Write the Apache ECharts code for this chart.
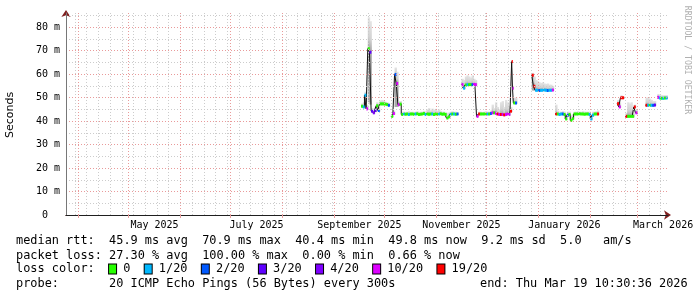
<!DOCTYPE html>
<html><head><meta charset="utf-8">
<script src="https://cdn.jsdelivr.net/npm/echarts@6/dist/echarts.min.js"></script>
<style>html,body{margin:0;padding:0;background:#fff}#c{width:697px;height:297px}</style>
</head><body><div id="c"></div>
<script>
// ---------- DATA ----------
// each entry covers [dates[i], dates[i+1]); null median = no data (gap)
const dates = [
 // Sep-Oct bump
 '2025-09-17','2025-09-18','2025-09-19','2025-09-20','2025-09-21','2025-09-22','2025-09-23','2025-09-24','2025-09-25','2025-09-26','2025-09-27','2025-09-28','2025-09-29','2025-09-30','2025-10-01','2025-10-02','2025-10-03','2025-10-04',
 // Oct-Nov flat
 '2025-10-05','2025-10-06','2025-10-07','2025-10-08','2025-10-09','2025-10-10','2025-10-11','2025-10-12','2025-10-13','2025-10-14','2025-10-15','2025-10-16','2025-10-17','2025-10-18','2025-10-19','2025-10-20','2025-10-21','2025-10-22','2025-10-23','2025-10-24','2025-10-25','2025-10-26','2025-10-27','2025-10-28','2025-10-29','2025-10-30','2025-10-31','2025-11-01','2025-11-02','2025-11-03','2025-11-04','2025-11-05','2025-11-06','2025-11-07','2025-11-08','2025-11-09','2025-11-10','2025-11-11','2025-11-12','2025-11-13','2025-11-14',
 // Nov-Dec
 '2025-11-16','2025-11-17','2025-11-18','2025-11-19','2025-11-20','2025-11-21','2025-11-22','2025-11-23','2025-11-24',
 '2025-11-25','2025-11-26','2025-11-27','2025-11-28','2025-11-29','2025-11-30',
 '2025-12-01','2025-12-02','2025-12-03','2025-12-04','2025-12-05','2025-12-06','2025-12-07','2025-12-08','2025-12-09','2025-12-10','2025-12-11','2025-12-12','2025-12-13','2025-12-14','2025-12-15',
 '2025-12-16','2025-12-16 12:00','2025-12-17','2025-12-18','2025-12-19',
 // Dec-Jan
 '2025-12-28','2025-12-29','2025-12-30','2025-12-31','2026-01-01','2026-01-02','2026-01-03','2026-01-04','2026-01-05','2026-01-06','2026-01-07','2026-01-08','2026-01-09','2026-01-10',
 // Jan-Feb
 '2026-01-11','2026-01-12','2026-01-13','2026-01-14','2026-01-15','2026-01-16','2026-01-17','2026-01-18','2026-01-19','2026-01-20','2026-01-21','2026-01-22','2026-01-23','2026-01-24','2026-01-25','2026-01-26','2026-01-27','2026-01-28','2026-01-29','2026-01-30','2026-01-31','2026-02-01','2026-02-02','2026-02-03','2026-02-04','2026-02-05','2026-02-06',
 // Feb
 '2026-02-17','2026-02-18','2026-02-19','2026-02-20','2026-02-21',
 '2026-02-22','2026-02-23','2026-02-24','2026-02-25','2026-02-26','2026-02-27','2026-02-28','2026-03-01',
 // Mar
 '2026-03-06','2026-03-07','2026-03-08','2026-03-09','2026-03-10','2026-03-11','2026-03-12',
 '2026-03-13','2026-03-14','2026-03-15','2026-03-16','2026-03-17','2026-03-18','2026-03-19'
];
const median = [
 46.3,46.0,51.0,45.2,70.8,69.3,44.2,43.5,44.5,46.5,44.5,47.3,47.3,47.3,47.2,47.0,46.7,null,
 42.0,43.2,59.8,56.0,47.0,47.2,42.8,43.0,42.9,43.0,42.8,43.0,43.0,42.9,43.0,43.1,42.8,42.9,43.0,43.2,42.8,43.0,42.9,43.0,43.0,42.8,43.0,42.9,43.0,43.1,42.9,43.0,42.8,41.3,41.8,42.9,43.0,43.0,42.9,43.0,null,
 55.5,54.0,55.3,55.5,55.5,55.5,55.5,55.6,55.5,
 42.0,43.0,43.0,43.0,43.0,43.1,
 43.0,43.0,43.2,43.5,43.5,43.3,43.0,42.8,42.8,42.8,42.6,42.8,43.0,42.8,44.2,
 65.3,54.0,47.7,47.7,null,
 59.5,54.8,53.1,53.1,53.0,53.1,53.1,53.2,53.1,53.0,53.1,53.1,53.2,null,
 43.0,43.0,42.8,43.0,43.0,42.8,40.9,42.5,42.8,40.3,41.0,43.0,43.0,43.0,43.1,43.0,43.0,42.9,43.0,43.0,42.8,40.9,42.5,43.0,43.0,43.0,null,
 47.4,46.0,49.9,49.9,null,
 42.0,42.0,42.0,42.0,42.0,46.0,43.5,null,
 46.7,46.7,46.7,46.7,46.7,46.8,null,
 50.1,49.8,49.7,49.7,49.8,49.8,null
];
// lost pings out of 20
const loss = [
 0,1,1,10,0,3,3,4,3,0,2,0,0,0,0,0,2,null,
 0,10,2,10,10,0,0,1,0,0,1,0,0,0,1,0,0,0,0,0,1,0,0,0,1,0,0,0,1,0,0,0,0,0,0,1,0,1,0,2,null,
 10,1,0,1,0,0,2,10,10,
 10,19,0,0,0,0,
 1,0,2,10,0,10,19,10,19,10,19,10,10,10,19,
 19,10,0,2,null,
 19,19,1,1,2,1,1,1,1,2,1,1,10,null,
 19,0,1,1,2,0,0,2,0,0,0,0,0,0,0,0,0,0,0,0,1,1,1,0,0,19,null,
 19,10,19,19,null,
 19,0,0,0,0,19,10,null,
 19,1,0,1,2,3,null,
 10,1,0,1,0,1,null
];
const smokeLo = [
 45.8,45.5,47.0,44.8,48.0,47.0,43.6,43.0,43.8,45.8,44.0,46.8,46.8,46.8,46.8,46.6,46.3,null,
 41.7,42.8,46.0,46.0,46.5,46.8,42.4,42.6,42.5,42.6,42.4,42.6,42.6,42.5,42.6,42.7,42.4,42.5,42.6,42.8,42.4,42.6,42.5,42.6,42.6,42.4,42.6,42.5,42.6,42.7,42.5,42.6,42.4,41.0,41.4,42.5,42.6,42.6,42.5,42.6,null,
 55.0,53.6,54.8,55.0,55.0,55.0,55.0,55.0,55.0,
 41.7,42.6,42.6,42.6,42.6,42.7,
 42.6,42.6,42.8,43.0,43.0,42.9,42.6,42.4,42.4,42.4,42.2,42.4,42.6,42.4,43.8,
 65.3,53.5,47.3,47.3,null,
 53.0,53.0,52.7,52.7,52.7,52.7,52.7,52.8,52.7,52.7,52.7,52.7,52.8,null,
 42.6,42.6,42.4,42.6,42.6,42.4,40.5,42.0,42.4,40.0,40.6,42.6,42.6,42.6,42.7,42.6,42.6,42.5,42.6,42.6,42.4,40.5,42.0,42.6,42.6,42.6,null,
 47.0,45.6,49.4,49.4,null,
 41.6,41.6,41.6,41.6,41.6,45.5,43.0,null,
 46.3,46.3,46.3,46.3,46.3,46.4,null,
 49.6,49.4,49.3,49.3,49.4,49.4,null
];
const smokeHi = [
 47.5,48.0,52.5,47.0,84.2,82.5,45.5,44.5,46.0,48.0,46.5,48.8,49.0,48.6,48.2,48.0,47.6,null,
 43.0,44.5,62.8,61.0,48.5,48.5,44.0,44.0,43.8,44.0,44.2,43.8,44.0,43.8,44.0,44.2,43.8,44.0,44.0,44.3,44.0,45.0,45.5,44.6,45.3,44.8,45.2,44.5,45.0,44.3,44.0,44.0,43.8,43.5,43.6,44.0,44.2,44.0,44.0,43.8,null,
 58.0,57.5,59.0,59.5,59.0,58.5,59.5,58.0,57.5,
 43.0,44.0,44.0,43.8,44.0,44.2,
 44.0,44.0,44.5,47.0,45.5,48.0,46.0,45.0,48.0,48.5,46.0,49.0,48.0,46.5,46.0,
 65.3,55.0,50.0,50.0,null,
 60.5,59.0,57.5,57.0,56.5,56.2,56.5,56.0,55.8,56.0,55.5,55.5,55.0,null,
 47.0,44.5,44.0,44.0,44.2,44.0,43.0,44.0,44.0,42.5,43.0,44.0,44.0,44.2,44.0,44.0,44.2,44.0,44.0,44.0,44.0,43.0,44.0,44.0,44.2,44.5,null,
 49.0,48.0,51.0,50.5,null,
 43.5,48.0,47.5,48.0,45.0,47.0,45.0,null,
 50.0,50.0,49.5,49.0,48.5,48.5,null,
 51.5,51.3,51.0,51.0,51.0,51.0,null
];

const xRange = ['2025-03-24 15:00','2026-03-19 10:30'];
const yRange = [0, 86];
const monthStarts = ['2025-04-01','2025-05-01','2025-06-01','2025-07-01','2025-08-01','2025-09-01','2025-10-01','2025-11-01','2025-12-01','2026-01-01','2026-02-01','2026-03-01'];
const firstSunday = '2025-03-30';
const xLabelDates = ['2025-05-16 12:00','2025-07-16 12:00','2025-09-16','2025-11-16','2026-01-16 12:00','2026-03-16 12:00'];
const xLabelTexts = ['May 2025','July 2025','September 2025','November 2025','January 2026','March 2026'];
const yMajor = [10,20,30,40,50,60,70,80];
const yMinor = [5,15,25,35,45,55,65,75,85];
const yLabelValues = [0,10,20,30,40,50,60,70,80];
const yLabelTexts = ['0  ','10 m','20 m','30 m','40 m','50 m','60 m','70 m','80 m'];

const lossLevels = [0,1,2,3,4,10,19];
const lossLabels = ['0','1/20','2/20','3/20','4/20','10/20','19/20'];
const lossColors = ['#26ff00','#00b8ff','#0059ff','#5e00ff','#7e00ff','#dd00ff','#ff0000'];

const rttStats = ['45.9 ms avg','70.9 ms max','40.4 ms min','49.8 ms now','9.2 ms sd','5.0   am/s'];
const lossStats = ['27.30 % avg','100.00 % max','0.00 % min','0.66 % now'];
const probeText = '20 ICMP Echo Pings (56 Bytes) every 300s';
const endText = 'end: Thu Mar 19 10:30:36 2026';

// ---------- BUILD ----------
const MONO = '"DejaVu Sans Mono", monospace';
const T = s => { const p = s.split(' '); const d = p[0].split('-').map(Number); const t = p[1] ? p[1].split(':').map(Number) : [0,0]; return Date.UTC(d[0], d[1]-1, d[2], t[0], t[1]); };
const xMin = T(xRange[0]), xMax = T(xRange[1]);
const DAY = 86400000;
const weekLines = [];
for (let t = T(firstSunday); t < xMax; t += 7*DAY) weekLines.push(t);

function colorFor(l){ let c = lossColors[0]; lossLevels.forEach((lv,k)=>{ if (l >= lv) c = lossColors[k]; }); return c; }

const rows = [];
for (let i = 0; i < dates.length - 1; i++) {
  if (median[i] == null) continue;
  rows.push([T(dates[i]), T(dates[i+1]), smokeLo[i], median[i], smokeHi[i], loss[i]]);
}
const lineData = dates.map((d,i)=>[T(d), median[i]]);

const chart = echarts.init(document.getElementById('c'), null, {renderer:'canvas', width:697, height:297});

function smokeItem(params, api){
  const t0 = api.value(0), t1 = api.value(1), lo = api.value(2), med = api.value(3), hi = api.value(4);
  const x0 = api.coord([t0, med])[0], x1 = api.coord([t1, med])[0];
  const yLo = api.coord([t0, lo])[1], yMed = api.coord([t0, med])[1], yHi = api.coord([t0, hi])[1];
  const w = x1 - x0 + 0.7;
  const ch = [];
  if (yMed - yHi > 0.5) ch.push({type:'rect', shape:{x:x0, y:yHi, width:w, height:yMed-yHi},
    style:{fill: new echarts.graphic.LinearGradient(0,0,0,1,[{offset:0,color:'#e4e4e4'},{offset:0.6,color:'#d2d2d2'},{offset:1,color:'#a0a0a0'}])}});
  if (yLo - yMed > 0.5) ch.push({type:'rect', shape:{x:x0, y:yMed, width:w, height:yLo-yMed}, style:{fill:'#a8a8a8'}});
  return {type:'group', children: ch};
}
function medItem(params, api){
  const t0 = api.value(0), t1 = api.value(1), med = api.value(3), l = api.value(5);
  const p0 = api.coord([t0, med]), p1 = api.coord([t1, med]);
  return {type:'rect', shape:{x:p0[0], y:p0[1]-1.5, width:p1[0]-p0[0]+0.3, height:3}, style:{fill: colorFor(l)}};
}

const gridDash = [1,2];
const rich = {t:{fontFamily:MONO, fontSize:11.9, fill:'#000', verticalAlign:'middle'}};
lossColors.forEach((c,i)=>{ rich['s'+i] = {width:7, height:9, backgroundColor:c, borderColor:'#000', borderWidth:1, verticalAlign:'middle'}; });
const lossLegend = '{t|loss color:  }' + lossLabels.map((l,i)=>'{s'+i+'| }{t| '+l+'  }').join('');

const legendStyle = {fontFamily:MONO, fontSize:11.9, fill:'#000', align:'left', verticalAlign:'middle'};

chart.setOption({
  animation:false,
  backgroundColor:'#ffffff',
  grid:{left:66, right:29, top:13, bottom:82, outerBoundsMode:'none'},
  xAxis:[
    {type:'value', min:xMin, max:xMax, position:'bottom', z:5,
     axisLine:{show:true, onZero:false, lineStyle:{color:'#1f1f1f', width:1}},
     axisTick:{show:true, customValues: monthStarts.map(T), length:3, lineStyle:{color:'#e8a0a0'}},
     axisLabel:{show:true, customValues: xLabelDates.map(T), margin:5, fontFamily:MONO, fontSize:10, color:'#000',
       formatter: v => { const i = xLabelDates.findIndex(d => Math.abs(T(d)-v) < 3600000); return i >= 0 ? xLabelTexts[i] : ''; }},
     splitLine:{show:false}},
    {type:'value', min:xMin, max:xMax, position:'bottom', z:1,
     axisLine:{show:true, onZero:false, symbol:['none','arrow'], symbolSize:[7,7], symbolOffset:[0,3], lineStyle:{color:'#801f1f', width:1}},
     axisTick:{show:false}, axisLabel:{show:false}, splitLine:{show:false}}
  ],
  yAxis:[
    {type:'value', min:yRange[0], max:yRange[1], interval:10, position:'left', z:5,
     axisLine:{show:true, onZero:false, lineStyle:{color:'#777', width:1}},
     axisTick:{show:false},
     axisLabel:{show:true, margin:6, fontFamily:MONO, fontSize:10, color:'#000',
       formatter: v => { const i = yLabelValues.indexOf(v); return i >= 0 ? yLabelTexts[i] : ''; }},
     splitLine:{show:false}},
    {type:'value', min:yRange[0], max:yRange[1], position:'left', z:1,
     axisLine:{show:true, onZero:false, symbol:['none','arrow'], symbolSize:[7,7], symbolOffset:[0,3], lineStyle:{color:'#801f1f', width:1}},
     axisTick:{show:false}, axisLabel:{show:false}, splitLine:{show:false}}
  ],
  series:[
    {type:'custom', name:'smoke', renderItem:smokeItem, data:rows, z:1, silent:true, encode:{x:0, y:3}},
    {type:'line', name:'minorGrid', data:[], z:2, silent:true,
     markLine:{silent:true, symbol:['none','none'], label:{show:false}, animation:false,
       lineStyle:{color:'#cccccc', type:gridDash, width:1, opacity:1},
       data: weekLines.map(t=>({xAxis:t})).concat(yMinor.map(v=>({yAxis:v})))}},
    {type:'line', name:'majorGrid', data:[], z:2, silent:true,
     markLine:{silent:true, symbol:['none','none'], label:{show:false}, animation:false,
       lineStyle:{color:'#e99a9a', type:gridDash, width:1, opacity:1},
       data: monthStarts.map(d=>({xAxis:T(d)})).concat(yMajor.map(v=>({yAxis:v})))}},
    {type:'line', name:'median', data:lineData, step:'end', showSymbol:false, symbol:'none', connectNulls:false, z:3, silent:true,
     lineStyle:{color:'#111', width:1}},
    {type:'custom', name:'loss', renderItem:medItem, data:rows, z:4, silent:true, encode:{x:0, y:3}}
  ],
  graphic:[
    {type:'text', x:10, y:115, rotation:Math.PI/2, silent:true,
     style:{text:'Seconds', fontFamily:'"DejaVu Sans", sans-serif', fontSize:11, fill:'#000', align:'center', verticalAlign:'middle'}},
    {type:'text', x:687, y:60, rotation:-Math.PI/2, silent:true,
     style:{text:'RRDTOOL / TOBI OETIKER', fontFamily:MONO, fontSize:8.2, fill:'#b0b0b0', align:'center', verticalAlign:'middle'}},
    {type:'text', x:16, y:241, silent:true, style:Object.assign({text:'median rtt:  ' + rttStats.join('  ')}, legendStyle)},
    {type:'text', x:16, y:256, silent:true, style:Object.assign({text:'packet loss: ' + lossStats.join('  ')}, legendStyle)},
    {type:'text', x:16, y:269, silent:true, style:{text:lossLegend, rich:rich, align:'left', verticalAlign:'middle'}},
    {type:'text', x:16, y:284, silent:true, style:Object.assign({text:'probe:       ' + probeText}, legendStyle)},
    {type:'text', x:480, y:284, silent:true, style:Object.assign({text:endText}, legendStyle)}
  ]
});
</script>
</body></html>
